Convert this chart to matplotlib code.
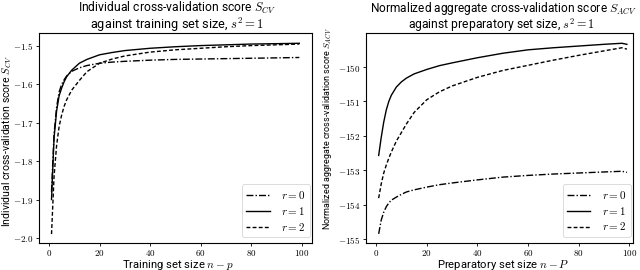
import matplotlib
matplotlib.use('Agg')
import matplotlib.pyplot as plt
from matplotlib.ticker import FuncFormatter, MultipleLocator

plt.rcParams['mathtext.fontset'] = 'cm'
plt.rcParams['font.family'] = ['Roboto', 'DejaVu Sans']

# Left panel: individual CV score vs training set size
x_left = [1, 2, 3, 4, 5, 6, 7, 9, 12, 15, 20, 25, 30, 40, 50, 60, 70, 80, 90, 99]
cv_r0 = [-1.88, -1.73, -1.66, -1.62, -1.60, -1.588, -1.578, -1.566, -1.557, -1.551, -1.545,
         -1.542, -1.540, -1.537, -1.535, -1.534, -1.533, -1.532, -1.531, -1.530]
cv_r1 = [-1.90, -1.74, -1.67, -1.63, -1.61, -1.593, -1.580, -1.563, -1.545, -1.535, -1.523,
         -1.517, -1.512, -1.506, -1.502, -1.499, -1.497, -1.495, -1.494, -1.493]
cv_r2 = [-1.99, -1.84, -1.76, -1.71, -1.68, -1.657, -1.640, -1.615, -1.590, -1.567, -1.545,
         -1.534, -1.526, -1.516, -1.510, -1.506, -1.502, -1.499, -1.497, -1.495]

# Right panel: normalized aggregate CV score vs preparatory set size
x_right = [1, 2, 3, 4, 5, 6, 8, 10, 12, 15, 20, 25, 30, 40, 50, 60, 70, 80, 90, 97, 99]
acv_r0 = [-154.85, -154.45, -154.22, -154.06, -153.95, -153.87, -153.78, -153.70, -153.63,
          -153.57, -153.49, -153.42, -153.37, -153.28, -153.20, -153.15, -153.11, -153.08,
          -153.05, -153.03, -153.06]
acv_r1 = [-152.57, -152.05, -151.60, -151.25, -151.00, -150.82, -150.58, -150.43, -150.32,
          -150.20, -150.07, -149.96, -149.88, -149.73, -149.60, -149.50, -149.44, -149.39,
          -149.34, -149.31, -149.34]
acv_r2 = [-153.81, -153.40, -153.08, -152.85, -152.65, -152.47, -152.15, -151.90, -151.65,
          -151.32, -150.95, -150.72, -150.55, -150.30, -150.10, -149.95, -149.80, -149.66,
          -149.53, -149.44, -149.48]

labels = ['$r=0$', '$r=1$', '$r=2$']
styles = [dict(ls='-.', dashes=(5, 1.5, 1, 1.5)), dict(ls='-'), dict(ls='--', dashes=(2.8, 1.6))]

W, H = 640, 270
fig = plt.figure(figsize=(6.4, 2.7), dpi=100)
renderer = fig.canvas.get_renderer()


def px(x, y):
    # pixel position (from top-left) -> figure fraction
    return x / W, 1 - y / H


def put(s, x, y, width, rotation=0, va='baseline'):
    # place text and scale its size so it spans `width` pixels
    t = fig.text(*px(x, y), s, ha='center', va=va, rotation=rotation, fontsize=10)
    bb = t.get_window_extent(renderer)
    span = bb.height if rotation else bb.width
    t.set_fontsize(10 * width / span)
    return t


def math_fmt(decimals):
    return FuncFormatter(lambda v, pos: f'${v:.{decimals}f}$')


ax1 = fig.add_axes([39 / W, 1 - 242.7 / H, (311.7 - 39) / W, (242.7 - 33.3) / H])
ax2 = fig.add_axes([365.5 / W, 1 - 242.5 / H, (632.5 - 365.5) / W, (242.5 - 33.3) / H])

for ys, st, lab in zip([cv_r0, cv_r1, cv_r2], styles, labels):
    ax1.plot(x_left, ys, color='black', lw=1.0, label=lab, **st)
for ys, st, lab in zip([acv_r0, acv_r1, acv_r2], styles, labels):
    ax2.plot(x_right, ys, color='black', lw=1.0, label=lab, **st)

ax1.set_xlim(-3.95, 103.9)
ax1.set_ylim(-2.0125, -1.467)
ax2.set_xlim(-4.2, 101.2)
ax2.set_ylim(-155.1, -149.02)

ax1.xaxis.set_major_locator(MultipleLocator(20))
ax1.yaxis.set_major_locator(MultipleLocator(0.1))
ax2.xaxis.set_major_locator(MultipleLocator(20))
ax2.yaxis.set_major_locator(MultipleLocator(1))
ax1.xaxis.set_major_formatter(math_fmt(0))
ax1.yaxis.set_major_formatter(math_fmt(1))
ax2.xaxis.set_major_formatter(math_fmt(0))
ax2.yaxis.set_major_formatter(math_fmt(0))

for ax in (ax1, ax2):
    ax.tick_params(labelsize=6.5, length=2.5, width=0.6, pad=1.5)
    for s in ax.spines.values():
        s.set_linewidth(0.8)
    leg = ax.legend(loc='lower right', bbox_to_anchor=(0.993, 0.027), borderaxespad=0,
                    fontsize=8, handlelength=2.1, framealpha=0.8, borderpad=0.4,
                    labelspacing=0.35, handletextpad=1.0, fancybox=True)
    leg.get_frame().set_linewidth(0.6)

# titles (two lines each)
put('Individual cross-validation score $S_{CV}$', 177, 12.2, 199)
put('against training set size, $s^2=1$', 177, 29.0, 173)
put('Normalized aggregate cross-validation score $S_{ACV}$', 503.5, 12.2, 267)
put('against preparatory set size, $s^2=1$', 501.5, 29.0, 187)

# x labels
put('Training set size $n-p$', 177.5, 267.5, 111)
put('Preparatory set size $n-P$', 503, 267.5, 132)

# y labels
put('Individual cross-validation score $S_{CV}$', 7.5, 141, 172, rotation=90, va='center')
put('Normalized aggregate cross-validation score $S_{ACV}$', 327, 129, 202, rotation=90, va='center')

fig.savefig('out.png', dpi=100)
